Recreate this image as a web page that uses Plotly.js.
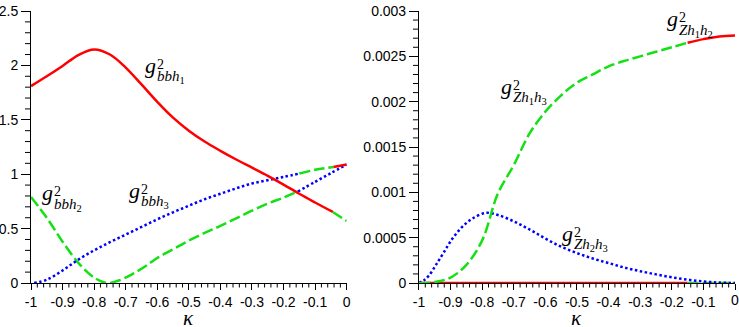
<!DOCTYPE html>
<html><head><meta charset="utf-8">
<script src="https://cdn.plot.ly/plotly-3.0.1.min.js"></script>
<style>html,body{margin:0;padding:0;background:#fff;overflow:hidden}#chart{width:739px;height:327px}</style>
</head><body><div id="chart"></div>
<script>
// ---------- Left panel: g^2_{bbh_i} ----------
const kappaBbh1 = [-1,-0.95,-0.9,-0.85,-0.8,-0.75,-0.7,-0.65,-0.6,-0.55,-0.5,-0.45,-0.4,-0.35,-0.3,-0.25,-0.2,-0.15,-0.1,-0.044];
const bbh1 = [1.81,1.90,1.995,2.095,2.147,2.10,1.98,1.825,1.665,1.52,1.40,1.30,1.215,1.135,1.06,0.985,0.905,0.82,0.74,0.653];
const kappaBbh1Tail = [-0.044,0];
const bbh1Tail = [0.653,0.57];

const kappaBbh2 = [-1,-0.95,-0.9,-0.85,-0.8,-0.76,-0.72,-0.68,-0.64,-0.6,-0.55,-0.5,-0.45,-0.4,-0.35,-0.3,-0.25,-0.2,-0.155];
const bbh2 = [0.79,0.60,0.38,0.185,0.05,0.0,0.025,0.08,0.15,0.23,0.31,0.39,0.46,0.525,0.595,0.665,0.73,0.785,0.84];
const kappaBbh2Tail = [-0.155,-0.1,-0.05,0];
const bbh2Tail = [0.84,0.93,1.01,1.089];

const kappaBbh3 = [-0.99,-0.95,-0.9,-0.85,-0.8,-0.75,-0.7,-0.65,-0.6,-0.55,-0.5,-0.45,-0.4,-0.35,-0.3,-0.25,-0.2,-0.15];
const bbh3 = [0.0,0.03,0.115,0.215,0.30,0.375,0.445,0.515,0.585,0.65,0.71,0.77,0.82,0.87,0.915,0.945,0.975,1.006];
const kappaBbh3Mid = [-0.15,-0.1,-0.042];
const bbh3Mid = [1.006,1.04,1.067];
const kappaBbh3Tail = [-0.042,0];
const bbh3Tail = [1.067,1.089];

// ---------- Right panel: g^2_{Z h_i h_j} ----------
const kappaZh1h3 = [-1,-0.95,-0.9,-0.85,-0.8,-0.75,-0.7,-0.65,-0.6,-0.55,-0.5,-0.45,-0.4,-0.35,-0.3,-0.25,-0.2,-0.15];
const zh1h3 = [0,0.00001,0.00006,0.0002,0.00047,0.00099,0.0013,0.00165,0.00189,0.00207,0.00221,0.0023,0.00239,0.00245,0.0025,0.00255,0.0026,0.00265];
const kappaZh1h2 = [-0.15,-0.1,-0.05,0];
const zh1h2 = [0.00265,0.00269,0.00272,0.00273];

const kappaZh2h3 = [-1,-0.984,-0.968,-0.947,-0.921,-0.894,-0.863,-0.831,-0.789,-0.75,-0.7,-0.65,-0.6,-0.55,-0.5,-0.45,-0.4,-0.35,-0.3,-0.25,-0.2,-0.15,-0.1,-0.05,0];
const zh2h3 = [0,0.00003,0.000085,0.000195,0.00034,0.00049,0.00062,0.00071,0.000773,0.00075,0.00068,0.00059,0.00049,0.0004,0.00033,0.00027,0.00022,0.00017,0.00013,0.000095,0.000063,0.000037,0.000017,0.000005,0];

const kappaZeroRed = [-1,-0.15];
const zeroRed = [0,0];
const kappaZeroGreen = [-0.15,0];
const zeroGreen = [0,0];

// ---------- Tick labels ----------
const kTickVals = [-1,-0.9,-0.8,-0.7,-0.6,-0.5,-0.4,-0.3,-0.2,-0.1,0];
const kTickText = ['-1','-0.9','-0.8','-0.7','-0.6','-0.5','-0.4','-0.3','-0.2','-0.1','0'];
const yLeftTickVals = [0,0.5,1,1.5,2,2.5];
const yLeftTickText = ['0','0.5','1','1.5','2','2.5'];
const yRightTickVals = [0,0.0005,0.001,0.0015,0.002,0.0025,0.003];
const yRightTickText = ['0','0.0005','0.001','0.0015','0.002','0.0025','0.003'];

// minor tick positions (axis furniture): every 5th step is a major tick and is skipped
function minorSteps(a, b, n){ const out=[]; for(let i=1;i<n;i++){ if(i%5!==0) out.push(a+(b-a)*i/n); } return out; }
const kMinor = minorSteps(-1, 0, 50);
const yLeftMinor = minorSteps(0, 2.5, 25);
const yRightMinor = minorSteps(0, 0.003, 30);

const RED = 'rgb(255,0,0)', GREEN = 'rgb(20,225,20)', BLUE = 'rgb(0,0,255)';
const solid = {color:RED, width:2.5, dash:'solid', shape:'spline', smoothing:1};
const dashed = {color:GREEN, width:2.5, dash:'11px,4px', shape:'spline', smoothing:1};
const dotted = {color:BLUE, width:2.5, dash:'2.5px,2.5px', shape:'spline', smoothing:1};

function tr(x, y, line, xa, ya){
  return {x:x, y:y, mode:'lines', line:line, xaxis:xa, yaxis:ya, hoverinfo:'skip', showlegend:false};
}

const data = [
  tr(kappaBbh2, bbh2, dashed, 'x','y'),
  tr(kappaBbh2Tail, bbh2Tail, dotted, 'x','y'),
  tr(kappaBbh3, bbh3, dotted, 'x','y'),
  tr(kappaBbh3Mid, bbh3Mid, dashed, 'x','y'),
  tr(kappaBbh1Tail, bbh1Tail, dashed, 'x','y'),
  tr(kappaBbh1, bbh1, solid, 'x','y'),
  tr(kappaBbh3Tail, bbh3Tail, solid, 'x','y'),

  tr(kappaZeroRed, zeroRed, solid, 'x2','y2'),
  tr(kappaZeroGreen, zeroGreen, dashed, 'x2','y2'),
  tr(kappaZh2h3, zh2h3, dotted, 'x2','y2'),
  tr(kappaZh1h3, zh1h3, dashed, 'x2','y2'),
  tr(kappaZh1h2, zh1h2, solid, 'x2','y2')
];

const SERIF = 'Liberation Serif';
function label(xr, yr, x, y, sub){
  const base = {xref:xr, yref:yr, x:x, y:y, showarrow:false, xanchor:'left', yanchor:'middle', borderpad:0};
  return [
    Object.assign({}, base, {text:'<i>g</i>', font:{family:SERIF, size:22, color:'black'}, xshift:-1, yshift:7}),
    Object.assign({}, base, {text:'2', font:{family:SERIF, size:14, color:'black'}, xshift:11, yshift:8}),
    Object.assign({}, base, {text:sub, font:{family:SERIF, size:15, color:'black'}, xshift:11, yshift:-5})
  ];
}
function kappaTitle(xr, yr){
  return {xref:xr+' domain', yref:yr+' domain', x:0.5, y:0, yshift:-35, xanchor:'center', yanchor:'middle',
    showarrow:false, text:'<i>κ</i>', font:{family:SERIF, size:21, color:'black'}};
}
const tickFont = {family:'Liberation Sans', size:14, color:'black'};

// right panel's last tick label drawn as annotation (it is hidden at the div edge otherwise)
const rightZeroLabel = {xref:'x2', yref:'y2 domain', x:kTickVals[kTickVals.length-1], y:0, yshift:-16.5,
  xanchor:'center', yanchor:'middle', showarrow:false, text:kTickText[kTickText.length-1], font:tickFont};

const annotations = [].concat(
  label('x','y',-0.638,1.938,'<i>bbh</i><sub>1</sub>'),
  label('x','y',-0.964,0.765,'<i>bbh</i><sub>2</sub>'),
  label('x','y',-0.689,0.788,'<i>bbh</i><sub>3</sub>'),
  label('x2','y2',-0.742,0.002095,'<i>Zh</i><sub>1</sub><i>h</i><sub>3</sub>'),
  label('x2','y2',-0.546,0.000471,'<i>Zh</i><sub>2</sub><i>h</i><sub>3</sub>'),
  label('x2','y2',-0.2144,0.00284,'<i>Zh</i><sub>1</sub><i>h</i><sub>2</sub>'),
  [kappaTitle('x','y'), kappaTitle('x2','y2'), rightZeroLabel]
);

// minor ticks as short pixel-sized lines hanging off the axis lines
const X1_DOMAIN = [0,0.4484], X2_DOMAIN = [0.5511,1];
const shapes = [];
function xMinorTicks(xr){
  kMinor.forEach(v => shapes.push({type:'line', xref:xr, yref:'paper', ysizemode:'pixel', yanchor:0,
    x0:v, x1:v, y0:-1, y1:-4.5, line:{color:'black', width:1}, layer:'above'}));
}
function yMinorTicks(yr, vals, xAnchor){
  vals.forEach(v => shapes.push({type:'line', xref:'paper', yref:yr, xsizemode:'pixel', xanchor:xAnchor,
    y0:v, y1:v, x0:-1, x1:-6, line:{color:'black', width:1}, layer:'above'}));
}
xMinorTicks('x'); xMinorTicks('x2');
yMinorTicks('y', yLeftMinor, X1_DOMAIN[0]);
yMinorTicks('y2', yRightMinor, X2_DOMAIN[0]);

const CLEAR = 'rgba(0,0,0,0)';
function xAxis(domain, anchor, ticktext){
  return {domain:domain, anchor:anchor, range:[-1,0], showline:true, linecolor:'black',
    ticks:'outside', ticklen:6, tickcolor:'black', tickmode:'array',
    tickvals:kTickVals, ticktext:ticktext, tickfont:tickFont,
    gridcolor:CLEAR, zerolinecolor:CLEAR, ticklabeloverflow:'allow'};
}
function yAxis(anchor, range, vals, text){
  return {anchor:anchor, domain:[0,1], range:range, showline:true, linecolor:'black',
    ticks:'outside', ticklen:9, tickcolor:'black', tickmode:'array',
    tickvals:vals, ticktext:text, tickfont:tickFont,
    gridcolor:CLEAR, zerolinecolor:CLEAR, ticklabeloverflow:'allow'};
}
const kTickTextRight = kTickText.slice(0, -1).concat(['']);

const layout = {
  width:739, height:327,
  margin:{l:31, r:4, t:11, b:44},
  paper_bgcolor:'white', plot_bgcolor:'white',
  showlegend:false,
  xaxis: xAxis(X1_DOMAIN,'y',kTickText),
  yaxis: yAxis('x',[0,2.5],yLeftTickVals,yLeftTickText),
  xaxis2: xAxis(X2_DOMAIN,'y2',kTickTextRight),
  yaxis2: yAxis('x2',[0,0.003],yRightTickVals,yRightTickText),
  annotations: annotations,
  shapes: shapes
};

Plotly.newPlot('chart', data, layout, {staticPlot:true});
</script></body></html>
